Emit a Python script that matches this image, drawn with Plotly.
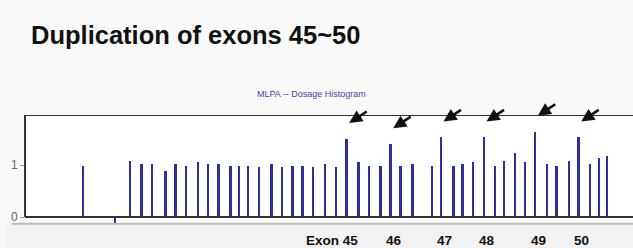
import plotly.graph_objects as go

# ---- data ----
probe_pos = [83, 115, 130, 141.7, 152.3, 165.7, 175.7, 186, 198, 208, 218.7, 230.7,
             239.3, 248.3, 259.3, 271.7, 282.3, 292.7, 302.7, 313.5, 325, 336, 346.7,
             358.7, 369.3, 380.7, 390.7, 400.7, 412.7, 432, 441, 453.7, 462.7, 473.3,
             484, 495, 504, 515.3, 525.3, 535.3, 547, 556.7, 569, 578.7, 590, 599, 607.3]
dosage_ratio = [0.99, -0.12, 1.08, 1.02, 1.02, 0.89, 1.02, 0.99, 1.05, 1.02, 1.02, 0.99,
                0.99, 0.99, 0.96, 1.02, 0.96, 0.99, 0.99, 0.96, 1.02, 0.96, 1.50,
                1.05, 0.99, 0.99, 1.40, 0.99, 1.02, 0.99, 1.53, 0.99, 1.02, 1.05,
                1.53, 0.99, 1.08, 1.24, 1.05, 1.64, 1.02, 0.99, 1.08, 1.53, 1.02, 1.13, 1.18]
exon_probe_index = [22, 26, 30, 34, 39, 43]
exon_labels = ["Exon 45", "46", "47", "48", "49", "50"]
y_tickvals = [0, 1]
y_ticktext = ["0", "1"]

title_text = "Duplication of exons 45~50"
chart_title = "MLPA -- Dosage Histogram"

X_RANGE = [25, 633]
Y_RANGE = [-0.596, 1.962]
BAR_COLOR = "#2f2f9c"

fig = go.Figure()
fig.add_trace(go.Bar(x=probe_pos, y=dosage_ratio, width=1.8,
                     marker=dict(color=BAR_COLOR, line=dict(width=0)),
                     hoverinfo="x+y"))

shapes = [
    dict(type="rect", xref="paper", yref="y", x0=-0.03, x1=1, y0=Y_RANGE[0], y1=-0.13,
         fillcolor="#f2f2f2", line=dict(width=0), layer="below"),
    dict(type="line", xref="paper", yref="y", x0=-0.021, x1=1, y0=-0.13, y1=-0.13,
         line=dict(color="#b8b8b8", width=2)),
    dict(type="line", xref="paper", yref="y", x0=0, x1=1, y0=0, y1=0,
         line=dict(color="#333333", width=2)),
    dict(type="line", xref="paper", yref="y", x0=0, x1=1, y0=Y_RANGE[1], y1=Y_RANGE[1],
         line=dict(color="#333333", width=2)),
    dict(type="line", xref="paper", yref="y", x0=0, x1=0, y0=0, y1=Y_RANGE[1],
         line=dict(color="#333333", width=2)),
]

annotations = [
    dict(text=title_text, xref="paper", yref="paper", x=0.006, y=1.60,
         xanchor="left", yanchor="middle", showarrow=False,
         font=dict(family="Liberation Sans, Arial", size=25.5,
                   color="#111111", weight="bold")),
    dict(text=chart_title, xref="paper", yref="paper", x=0.472, y=1.155,
         xanchor="center", yanchor="middle", showarrow=False,
         font=dict(family="Liberation Sans, Arial", size=9,
                   color="#4545a5")),
]

px_per_unit = 133 / (Y_RANGE[1] - Y_RANGE[0])
for k, idx in enumerate(exon_probe_index):
    bx = probe_pos[idx]
    by = dosage_ratio[idx]
    annotations.append(dict(
        x=bx + 2.5, y=by + 16 / px_per_unit, xref="x", yref="y", text="",
        showarrow=True, arrowhead=2, arrowsize=1, arrowwidth=2.6,
        arrowcolor="#111111", ax=19, ay=-12.5, standoff=0))
    annotations.append(dict(
        x=bx, y=-0.445, xref="x", yref="y", text=exon_labels[k], showarrow=False,
        xanchor="right" if k == 0 else "center",
        xshift=12 if k == 0 else 3, yanchor="middle", borderpad=0,
        font=dict(family="Liberation Sans, Arial", size=13.5, color="#111111",
                  weight="bold")))

fig.update_layout(
    width=633, height=248,
    margin=dict(l=25, r=0, t=115, b=0),
    paper_bgcolor="#f9f9f9", plot_bgcolor="#ffffff",
    showlegend=False, bargap=0,
    xaxis=dict(range=X_RANGE, showgrid=False, zeroline=False, showticklabels=False,
               ticks="", showline=False),
    yaxis=dict(range=Y_RANGE, showgrid=False, zeroline=False, showline=False,
               tickvals=y_tickvals, ticktext=y_ticktext, ticks="outside", ticklen=4,
               tickcolor="#999999", tickwidth=1,
               tickfont=dict(family="Liberation Sans, Arial",
                             size=12, color="#666666")),
    shapes=shapes, annotations=annotations,
)

fig.write_html("out.html", config={"displayModeBar": False},
               post_script="document.body.style.margin='0';document.body.style.overflow='hidden';")
